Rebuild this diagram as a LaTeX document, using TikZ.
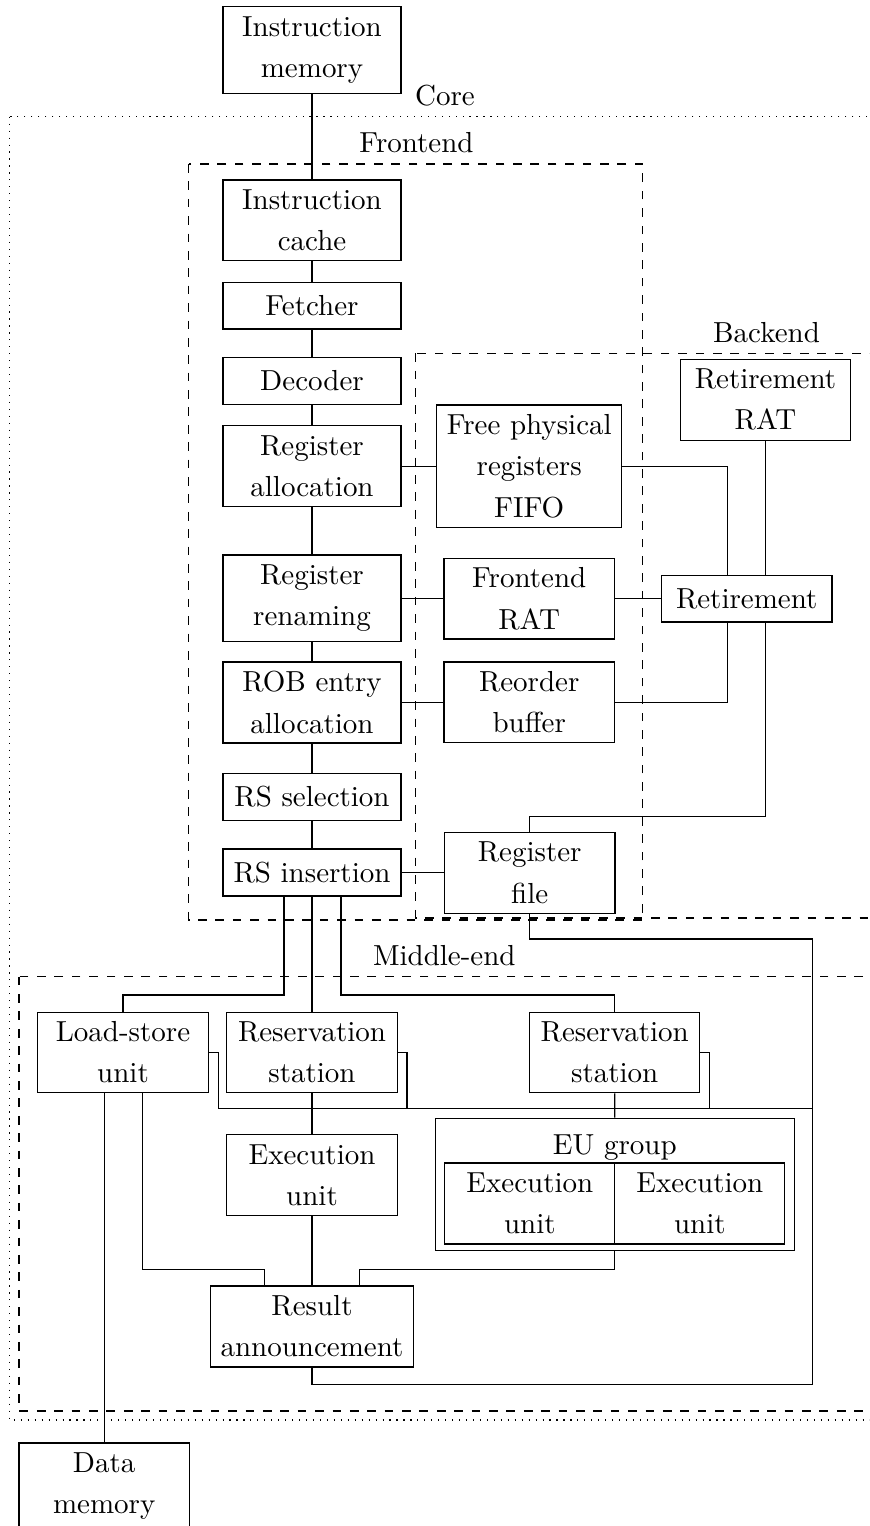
\documentclass[tikz,border=0pt]{standalone}
\usetikzlibrary{calc}
\begin{document}
\begin{tikzpicture}[x=0.345pt, y=-0.345pt,
  box/.style={draw, align=center, inner sep=0pt, font=\fontsize{10}{14.2}\selectfont},
  sz/.style 2 args={minimum width=#1*0.345pt, minimum height=#2*0.345pt},
  region/.style={font=\fontsize{10}{12}\selectfont, anchor=base, inner sep=0pt}]
\path[use as bounding box, clip] (0,0) rectangle (869,1526);

% enclosing regions
\draw[dotted] (9.3,116.7) rectangle (881,1420);
\draw[dashed] (188.8,164) rectangle (642.7,920);
\draw[dashed] (415.7,353.3) rectangle (1117,918);
\draw[dashed] (19,976.7) rectangle (885,1411);
\node[region] (lcore) at (445,106) {Core};
\node[region] (lfront) at (416.5,153) {Frontend};
\node[region] (lback) at (766.5,342.5) {Backend};
\node[region] (lmid) at (444.3,965.5) {Middle-end};

% frontend pipeline
\node[box, sz={178}{87}]   (imem)   at (312,50)    {Instruction\\memory};
\node[box, sz={178}{80.7}] (icache) at (312,220.3) {Instruction\\cache};
\node[box, sz={178}{46.7}] (fetch)  at (312,305.7) {Fetcher};
\node[box, sz={178}{46.7}] (decode) at (312,381)   {Decoder};
\node[box, sz={178}{81}]   (ralloc) at (312,466.2) {Register\\allocation};
\node[box, sz={178}{86.7}] (rren)   at (312,598.3) {Register\\renaming};
\node[box, sz={178}{81}]   (robe)   at (312,702.5) {ROB entry\\allocation};
\node[box, sz={178}{47}]   (rssel)  at (312,797)   {RS selection};
\node[box, sz={178}{47}]   (rsins)  at (312,872.5) {RS insertion};

% backend structures
\node[box, sz={185}{122.3}] (fpr)    at (529.2,466.2) {Free physical\\registers\\FIFO};
\node[box, sz={170.4}{81}]  (rrat)   at (765.5,399.8) {Retirement\\RAT};
\node[box, sz={170.3}{80.7}] (frat)  at (529.2,598.7) {Frontend\\RAT};
\node[box, sz={170.7}{46.7}] (retire) at (746.7,598.7) {Retirement};
\node[box, sz={170.3}{80.7}] (rob)   at (529.2,702.3) {Reorder\\buffer};
\node[box, sz={170.5}{81}]  (rf)     at (529.7,872.8) {Register\\file};

% middle-end
\node[box, sz={170.6}{80.4}] (lsu) at (123,1052.5)   {Load-store\\unit};
\node[box, sz={170.3}{80.4}] (rs1) at (312,1052.5)   {Reservation\\station};
\node[box, sz={170}{80.4}]   (rs2) at (614.7,1052.5) {Reservation\\station};
\node[box, sz={170.4}{81}]   (eu)  at (312,1175.2)   {Execution\\unit};
\node[box, sz={359.4}{132.4}] (eug) at (614.8,1184.5) {};
\node[region] (eulabel) at (614.8,1154) {EU group};
\node[box, sz={170}{81}] (eua) at (529.8,1203.5) {Execution\\unit};
\node[box, sz={170}{81}] (eub) at (699.8,1203.5) {Execution\\unit};
\node[box, sz={203}{81}] (rann) at (312,1326.5) {Result\\announcement};
\node[box, sz={170.5}{86}] (dmem) at (104.2,1486) {Data\\memory};

% in-order chain
\draw (imem) -- (icache) -- (fetch) -- (decode) -- (ralloc) -- (rren)
      -- (robe) -- (rssel) -- (rsins);

% frontend to backend
\draw (ralloc.east) -- (fpr.west);
\draw (rren.east |- frat.west) -- (frat.west);
\draw (robe.east |- rob.west) -- (rob.west);
\draw (rsins.east) -- (rf.west |- rsins.east);
\draw (frat.east) -- (retire.west);

% retirement connections
\draw (fpr.east) -| ($(retire.north)+(-19,0)$);
\draw (rob.east) -| ($(retire.south)+(-19,0)$);
\draw (rrat.south) -- (rrat.south |- retire.north);
\draw (rrat.south |- retire.south) -- ++(0,194) -| (rf.north);

% dispatch from RS insertion
\draw (rsins.south) -- (rs1.north);
\draw (rsins.south) ++(-28,0) |- ($(lsu.north)+(0,-16.8)$) -- (lsu.north);
\draw (rsins.south) ++(29,0) |- ($(rs2.north)+(0,-16.8)$) -- (rs2.north);

% issue to execution
\draw (rs1.south) -- (eu.north);
\draw (rs2.south) -- (eug.north);
\draw (eu.south) -- (rann.north);
\draw ($(lsu.south)+(19.3,0)$) |- ($(rann.north)+(-47.3,-16.3)$) -- ($(rann.north)+(-47.3,0)$);
\draw (eug.south) |- ($(rann.north)+(47.5,-16.3)$) -- ($(rann.north)+(47.5,0)$);
\draw (dmem.north) -- (dmem.north |- lsu.south);

% result broadcast loop
\coordinate (loopR) at (812.7,939);
\draw (rann.south) -- ++(0,16.5) -| (loopR) -| (rf.south);
\draw (lsu.east) -- ++(9.5,0) |- (loopR |- 0,1108.3);
\draw (rs1.east) -- ++(9.3,0) -- ++(0,55.8);
\draw (rs2.east) -- ++(9.3,0) -- ++(0,55.8);
\end{tikzpicture}
\end{document}
